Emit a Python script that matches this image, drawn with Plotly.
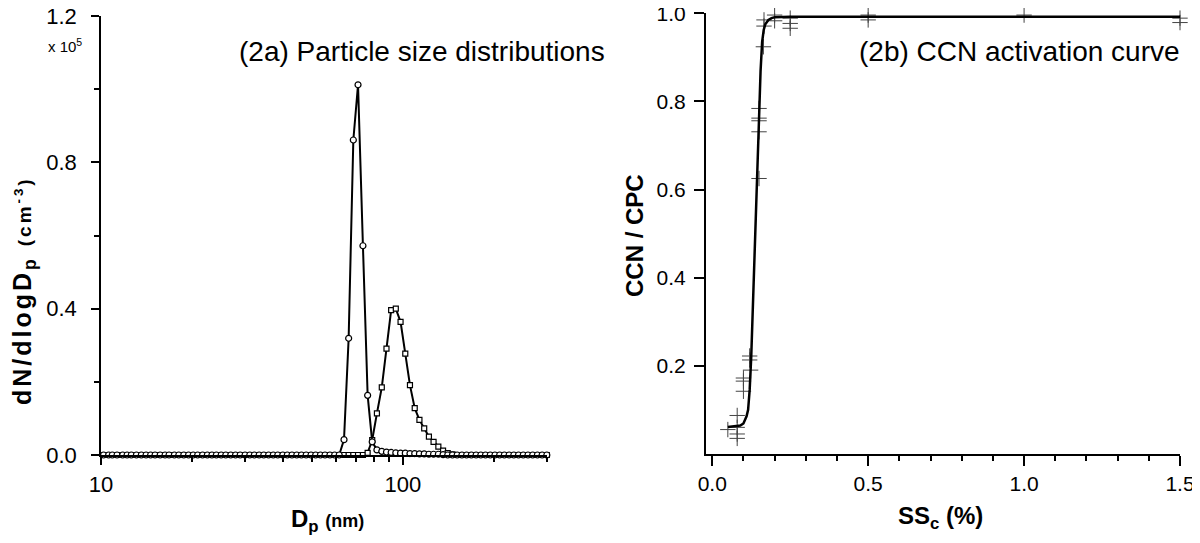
import plotly.graph_objects as go

# ---- panel (2a): SMPS size distributions (dN/dlogDp in units of 1e5 cm^-3)
dp_nm = [10.2, 10.6, 10.9, 11.3, 11.8, 12.2, 12.6, 13.1, 13.6, 14.1, 14.6, 15.1,
         15.7, 16.3, 16.8, 17.5, 18.1, 18.8, 19.5, 20.2, 20.9, 21.7, 22.5, 23.3,
         24.1, 25.0, 25.9, 26.9, 27.9, 28.9, 30.0, 31.1, 32.2, 33.4, 34.6, 35.9,
         37.2, 38.5, 40.0, 41.4, 42.9, 44.5, 46.1, 47.8, 49.6, 51.4, 53.3, 55.2,
         57.3, 59.4, 61.5, 63.8, 66.1, 68.5, 71.0, 73.7, 76.4, 79.1, 82.0, 85.1,
         88.2, 91.4, 94.7, 98.2, 101.8, 105.5, 109.4, 113.4, 117.6, 121.9, 126.3, 131.0,
         135.8, 140.7, 145.9, 151.2, 156.8, 162.5, 168.5, 174.7, 181.1, 187.7, 194.6, 201.7,
         209.1, 216.7, 224.7, 232.9, 241.4, 250.3, 259.5, 269.0, 278.8, 289.0, 299.6]

narrow_mode = [0.0] * 51 + [0.042, 0.319, 0.861, 1.012, 0.572, 0.163, 0.036, 0.014,
                            0.010, 0.008, 0.007, 0.006, 0.005, 0.005, 0.004, 0.004,
                            0.003, 0.003, 0.002, 0.002, 0.002, 0.001] + [0.0] * 22

wide_mode = [0.0] * 56 + [0.006, 0.041, 0.114, 0.185, 0.291, 0.396, 0.400, 0.364,
                          0.277, 0.191, 0.128, 0.096, 0.073, 0.050, 0.036, 0.023,
                          0.012, 0.005, 0.002] + [0.0] * 20

# ---- panel (2b): CCN activation
ss_obs = [0.05, 0.08, 0.08, 0.08, 0.08, 0.10, 0.10, 0.10, 0.12, 0.12, 0.123,
          0.15, 0.15, 0.15, 0.15, 0.15, 0.164, 0.166, 0.166, 0.20, 0.20,
          0.25, 0.25, 0.25, 0.50, 0.50, 1.0, 1.5, 1.5]
frac_obs = [0.055, 0.087, 0.060, 0.045, 0.035, 0.172, 0.165, 0.142, 0.222, 0.213, 0.190,
            0.784, 0.762, 0.756, 0.731, 0.625, 0.924, 0.985, 0.971, 0.996, 0.983,
            0.989, 0.977, 0.966, 0.996, 0.985, 0.996, 0.989, 0.979]

ss_fit = [0.05, 0.07, 0.09, 0.10, 0.11, 0.115, 0.12, 0.125, 0.13, 0.135, 0.14, 0.145,
          0.15, 0.155, 0.16, 0.165, 0.17, 0.18, 0.19, 0.20, 0.25, 0.5, 1.0, 1.5]
frac_fit = [0.061, 0.062, 0.064, 0.069, 0.085, 0.100, 0.145, 0.220, 0.320, 0.420, 0.525, 0.640,
            0.760, 0.870, 0.935, 0.962, 0.975, 0.985, 0.989, 0.991, 0.992, 0.992, 0.992, 0.992]

# the page body has an 8px margin, so the figure is a bit smaller than the window
OFF = 8
W, H = 1200 - OFF, 543 - OFF
FONT = "Liberation Sans, Arial, sans-serif"


def px(x):
    return (x - OFF) / W


def py(y):
    return 1 - (y - OFF) / H


fig = go.Figure()

fig.add_trace(go.Scatter(x=dp_nm, y=wide_mode, mode='lines+markers',
                         line=dict(color='black', width=2),
                         marker=dict(symbol='square', size=5, color='white',
                                     line=dict(color='black', width=1.2)),
                         xaxis='x', yaxis='y', cliponaxis=False))
fig.add_trace(go.Scatter(x=dp_nm, y=narrow_mode, mode='lines+markers',
                         line=dict(color='black', width=2),
                         marker=dict(symbol='circle', size=6, color='white',
                                     line=dict(color='black', width=1.2)),
                         xaxis='x', yaxis='y', cliponaxis=False))

fig.add_trace(go.Scatter(x=ss_obs, y=frac_obs, mode='markers',
                         marker=dict(symbol='cross-thin', size=11,
                                     line=dict(color='#444444', width=1)),
                         xaxis='x2', yaxis='y2', cliponaxis=False))
fig.add_trace(go.Scatter(x=ss_fit, y=frac_fit, mode='lines',
                         line=dict(color='black', width=2.5),
                         xaxis='x2', yaxis='y2', cliponaxis=False))

axis_common = dict(showline=True, linecolor='black', linewidth=1.5, showgrid=False,
                   zeroline=False, ticks='outside', tickcolor='black', tickwidth=1.5,
                   automargin=False, ticklabeloverflow='allow')
minor_common = dict(ticks='outside', ticklen=5, tickcolor='black', tickwidth=1.5)

fig.update_layout(
    width=W, height=H,
    margin=dict(l=0, r=0, t=0, b=0),
    paper_bgcolor='white', plot_bgcolor='white',
    showlegend=False,
    font=dict(family=FONT, color='black'),
    xaxis=dict(axis_common, type='log', domain=[px(101), px(547)],
               range=[1, 2.4771], anchor='y',
               tickvals=[10, 100], ticktext=['10', '100'], ticklen=8,
               ticklabelstandoff=1,
               tickfont=dict(family=FONT, size=22, color='black'),
               minor=dict(minor_common,
                          tickvals=[20, 30, 40, 50, 60, 70, 80, 90, 200, 300])),
    yaxis=dict(axis_common, domain=[py(455), py(16)], range=[0, 1.2], anchor='x',
               tickvals=[0, 0.4, 0.8, 1.2], ticktext=['0.0', '0.4', '0.8', '1.2'],
               ticklen=8, ticklabelstandoff=10,
               tickfont=dict(family=FONT, size=22, color='black'),
               minor=dict(minor_common, tickvals=[0.2, 0.6, 1.0])),
    xaxis2=dict(axis_common, domain=[px(705.7), px(1180)], range=[-0.021, 1.5],
                anchor='y2', tickvals=[0, 0.5, 1.0, 1.5],
                ticktext=['0.0', '0.5', '1.0', '1.5'], ticklen=10, ticklabelstandoff=0,
                tickfont=dict(family=FONT, size=21, color='black'),
                minor=dict(minor_common, dtick=0.1)),
    yaxis2=dict(axis_common, domain=[py(453.8), py(13.3)], range=[0, 1.0],
                anchor='x2', tickvals=[0.2, 0.4, 0.6, 0.8, 1.0],
                ticktext=['0.2', '0.4', '0.6', '0.8', '1.0'], ticklen=10,
                ticklabelstandoff=4,
                tickfont=dict(family=FONT, size=21, color='black')),
)

ann = [
    dict(text='(2a) Particle size distributions', x=px(607), y=py(52),
         xanchor='right', yanchor='middle', font=dict(size=28)),
    dict(text='(2b) CCN activation curve', x=px(1182), y=py(52),
         xanchor='right', yanchor='middle', font=dict(size=28)),
    dict(text='x 10<sup>5</sup>', x=px(84), y=py(46), xanchor='right',
         yanchor='middle', font=dict(size=15)),
    dict(text="<b><span style='letter-spacing:3px'>dN/dlogD<sub>p</sub> "
              "<span style='font-size:19px'>(cm<sup>-3</sup>)</span></span></b>",
         x=px(24), y=py(291), textangle=-90, xanchor='center', yanchor='middle',
         font=dict(size=25)),
    dict(text="<b>D<sub>p</sub> <span style='font-size:18px'>(nm)</span></b>",
         x=px(327), y=py(520), xanchor='center', yanchor='middle',
         font=dict(size=24)),
    dict(text='<b>CCN / CPC</b>', x=px(634), y=py(236), textangle=-90,
         xanchor='center', yanchor='middle', font=dict(size=24)),
    dict(text='<b>SS<sub>c</sub> (%)</b>', x=px(940), y=py(517),
         xanchor='center', yanchor='middle', font=dict(size=24)),
]
for a in ann:
    a.update(xref='paper', yref='paper', showarrow=False)
    a['font'] = dict(family=FONT, color='black', **a['font'])
fig.update_layout(annotations=ann)

fig.write_html("out.html")
